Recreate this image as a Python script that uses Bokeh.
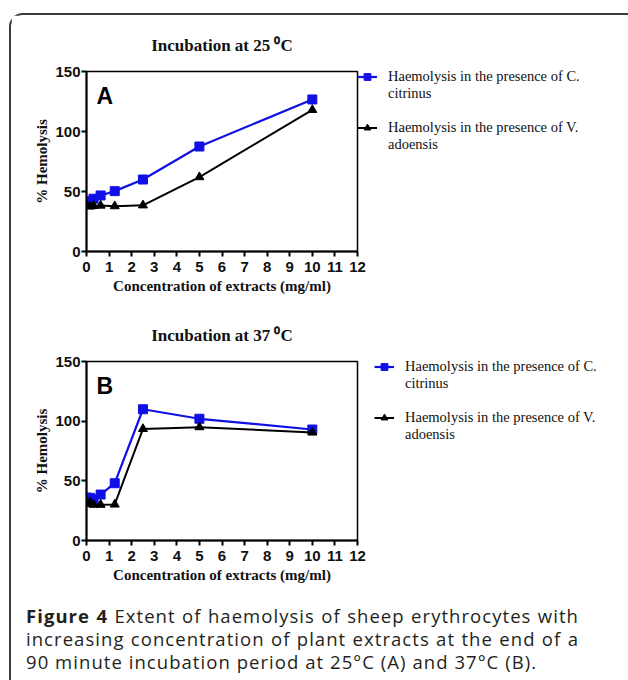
from bokeh.plotting import figure
from bokeh.models import Legend, LegendItem, Label, Div, Spacer, Range1d, FixedTicker
from bokeh.layouts import column, row
from bokeh.embed import file_html
from bokeh.resources import INLINE

conc = [0, 0.156, 0.3125, 0.625, 1.25, 2.5, 5, 10]
a_citrinus = [41, 42, 44, 46.7, 50.3, 60, 87.5, 126.7]
a_adoensis = [38.3, 37.5, 38, 38.3, 37.8, 38.5, 62, 118]
b_citrinus = [36, 35.7, 34.5, 38.5, 48, 110, 102, 93]
b_adoensis = [30.7, 32, 30, 30, 30.2, 93.5, 95, 90.5]
x_ticks = list(range(0, 13))
y_ticks = [0, 50, 100, 150]
titles = ["Incubation at 25 \u2070C", "Incubation at 37 \u2070C"]
letters = ["A", "B"]
leg_line1 = ["Haemolysis in the presence of C.", "Haemolysis in the presence of V."]
leg_line2 = ["citrinus", "adoensis"]
x_label = "Concentration of extracts (mg/ml)"
y_label = "% Hemolysis"

SERIF = "Liberation Serif"
SANS = "Liberation Sans"
BLUE = "#1010e6"
INK = "#111111"
LEG_FS = 14.5


def panel(title, letter, yc, ya, top, frame_h, bottom, leg_x, leg_y):
    p = figure(frame_width=271, frame_height=frame_h, min_border_left=75, min_border_right=262,
               min_border_top=top, min_border_bottom=bottom,
               x_range=Range1d(0, 12), y_range=Range1d(0, 150),
               output_backend="svg", toolbar_location=None, title=title)
    p.title.align = "center"
    p.title.text_font = SERIF
    p.title.text_font_size = "17px"
    p.title.text_font_style = "bold"
    p.title.text_color = INK
    p.title.standoff = 33
    p.grid.visible = False
    p.outline_line_color = "black"
    p.outline_line_width = 1.5
    for ax in (p.xaxis[0], p.yaxis[0]):
        ax.axis_line_width = 2
        ax.major_tick_line_width = 2
        ax.major_tick_out = 5
        ax.major_tick_in = 0
        ax.minor_tick_line_color = None
        ax.major_label_text_font = SANS
        ax.major_label_text_font_size = "15px"
        ax.major_label_text_font_style = "bold"
        ax.major_label_text_color = INK
        ax.axis_label_text_font = SERIF
        ax.axis_label_text_font_size = "15px"
        ax.axis_label_text_font_style = "bold"
        ax.axis_label_text_color = INK
    p.xaxis.ticker = FixedTicker(ticks=x_ticks)
    p.yaxis.ticker = FixedTicker(ticks=y_ticks)
    p.xaxis.axis_label = x_label
    p.yaxis.axis_label = y_label
    p.xaxis.major_label_standoff = 5
    p.yaxis.major_label_standoff = 1
    p.xaxis.axis_label_standoff = 3
    p.yaxis.axis_label_standoff = 2

    l1 = p.line(conc, yc, line_color=BLUE, line_width=2.2)
    s1 = p.scatter(conc, yc, marker="square", size=9, fill_color=BLUE, line_color=BLUE)
    l2 = p.line(conc, ya, line_color="black", line_width=2)
    s2 = p.scatter(conc, ya, marker="triangle", size=9, fill_color="black", line_color="black")
    # transparent companion line: gives the wrapped legend lines an empty sample
    ghost = p.line(conc, yc, line_alpha=0)

    leg = Legend(items=[LegendItem(label=leg_line1[0], renderers=[l1, s1]),
                        LegendItem(label=leg_line2[0], renderers=[ghost]),
                        LegendItem(label=" ", renderers=[ghost]),
                        LegendItem(label=leg_line1[1], renderers=[l2, s2]),
                        LegendItem(label=leg_line2[1], renderers=[ghost])],
                 location=(leg_x, leg_y), orientation="vertical",
                 glyph_width=20, glyph_height=17, label_height=17, label_standoff=11,
                 spacing=0, padding=0, margin=0,
                 border_line_color=None, background_fill_alpha=0,
                 label_text_font=SERIF, label_text_font_size=f"{LEG_FS}px", label_text_color=INK)
    p.add_layout(leg, "right")

    p.add_layout(Label(x=10, y=frame_h - 37, x_units="screen", y_units="screen", text=letter,
                       text_font=SANS, text_font_size="23px", text_font_style="bold",
                       text_color="black"))
    return p


pa = panel(titles[0], letters[0], a_citrinus, a_adoensis, 56, 180, 49, 0, 98)
pb = panel(titles[1], letters[1], b_citrinus, b_adoensis, 61, 179, 50, 17, 97)

cap_style = ("font-family:'Open Sans';font-size:18.5px;line-height:23px;color:#231f20;"
             "letter-spacing:1.05px;white-space:nowrap;width:553px;margin-left:10px;")
caption = Div(text=(
    "<div style=\"" + cap_style + "padding-top:9px\">"
    "<div style='text-align:justify;text-align-last:justify'><b>Figure 4</b> Extent of haemolysis of sheep erythrocytes with</div>"
    "<div style='text-align:justify;text-align-last:justify'>increasing concentration of plant extracts at the end of a</div>"
    "<div>90 minute incubation period at 25\u00b0C (A) and 37\u00b0C (B).</div>"
    "</div>"), width=608, height=80)

framed = column(pa, pb, caption, styles={
    "border-top": "2px solid #3a3a3a", "border-left": "2px solid #3a3a3a",
    "border-top-left-radius": "14px", "border-top-right-radius": "8px",
    "background-color": "white"})
page = row(Spacer(width=9), column(Spacer(height=13), framed))

open("out.html", "w").write(file_html(page, INLINE))
